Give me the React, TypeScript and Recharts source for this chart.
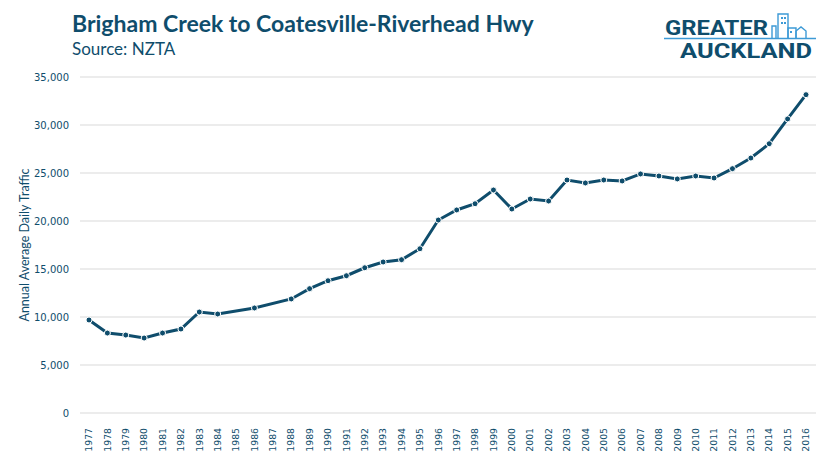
import { LineChart, Line, XAxis, YAxis, CartesianGrid, Label } from 'recharts';

const years = [
  '1977', '1978', '1979', '1980', '1981', '1982', '1983', '1984', '1985', '1986',
  '1987', '1988', '1989', '1990', '1991', '1992', '1993', '1994', '1995', '1996',
  '1997', '1998', '1999', '2000', '2001', '2002', '2003', '2004', '2005', '2006',
  '2007', '2008', '2009', '2010', '2011', '2012', '2013', '2014', '2015', '2016',
];

// AADT, no count for 1985 and 1987
const traffic: (number | null)[] = [
  9690, 8330, 8120, 7810, 8330, 8750, 10520, 10310, null, 10940,
  null, 11880, 12950, 13780, 14300, 15130, 15730, 15970, 17110, 20100,
  21150, 21800, 23230, 21250, 22290, 22080, 24270, 23960, 24270, 24170,
  24900, 24690, 24380, 24690, 24480, 25450, 26560, 28050, 30630, 33160,
];

const yTicks = [0, 5000, 10000, 15000, 20000, 25000, 30000, 35000];

const DARK = '#0f4d6c';
const LIGHT = '#3d9ad6';

const data = years.map((year, i) => ({ year, traffic: traffic[i] }));

const YearTick = (props: any) => {
  const { x, y, payload } = props;
  return (
    <g transform={`translate(${x},${y + 7}) rotate(-90)`}>
      <text x={0} y={0} dy="0.35em" textAnchor="end" fill={DARK} fontSize={9.3} fontFamily="DejaVu Sans">
        {payload.value}
      </text>
    </g>
  );
};

function Logo() {
  return (
    <svg width={831} height={70} style={{ position: 'absolute', left: 0, top: 0 }}>
      <text x={72} y={32} fill={DARK} fontFamily="Lato" fontWeight={700} fontSize={23}>
        Brigham Creek to Coatesville-Riverhead Hwy
      </text>
      <text x={72} y={55} fill={DARK} fontFamily="Lato" fontSize={17}>
        Source: NZTA
      </text>
      <text x={665} y={35} fill={DARK} fontFamily="Roboto" fontWeight={700} fontSize={21}
        textLength={103} lengthAdjust="spacingAndGlyphs">
        GREATER
      </text>
      <line x1={664} y1={38.5} x2={816} y2={38.5} stroke={LIGHT} strokeWidth={1.5} />
      <text x={680} y={58} fill={DARK} fontFamily="Roboto" fontWeight={700} fontSize={21}
        textLength={132} lengthAdjust="spacingAndGlyphs">
        AUCKLAND
      </text>
      <g fill="none" stroke={LIGHT} strokeWidth={1.4}>
        <path d="M772 38 V26 H776 V38" />
        <path d="M778 38 V14 H788 V38" />
        <path d="M788 38 V28 H796 V38" />
        <path d="M796 38 V31 L801 27 L806 31 V38" />
      </g>
      <g fill={LIGHT}>
        <rect x={781} y={17} width={2} height={2} />
        <rect x={784} y={17} width={2} height={2} />
        <rect x={781} y={22} width={2} height={2} />
        <rect x={784} y={22} width={2} height={2} />
        <rect x={790} y={31} width={2} height={2} />
      </g>
    </svg>
  );
}

export default function App() {
  return (
    <div style={{ position: 'absolute', left: 0, top: 0, width: 831, height: 455, background: '#fff' }}>
      <LineChart width={831} height={455} data={data} margin={{ top: 77, right: 15, bottom: 0, left: 0 }}>
        <CartesianGrid vertical={false} stroke="#d9d9d9" />
        <XAxis
          dataKey="year"
          interval={0}
          axisLine={false}
          tickLine={false}
          height={42}
          padding={{ left: 9, right: 10 }}
          tick={<YearTick />}
        />
        <YAxis
          domain={[0, 35000]}
          ticks={yTicks}
          width={80}
          axisLine={false}
          tickLine={false}
          tickMargin={5}
          tick={{ fill: DARK, fontSize: 10, fontFamily: 'DejaVu Sans' }}
          tickFormatter={(v: number) => v.toLocaleString('en-US')}
        >
          <Label
            value="Annual Average Daily Traffic"
            angle={-90}
            position="center"
            dx={-15}
            fill={DARK}
            fontSize={12.5}
            fontFamily="Lato"
          />
        </YAxis>
        <Line
          type="linear"
          dataKey="traffic"
          stroke={DARK}
          strokeWidth={3}
          connectNulls
          dot={{ r: 3, fill: DARK, stroke: '#fff', strokeWidth: 1 }}
          isAnimationActive={false}
        />
      </LineChart>
      <Logo />
    </div>
  );
}
